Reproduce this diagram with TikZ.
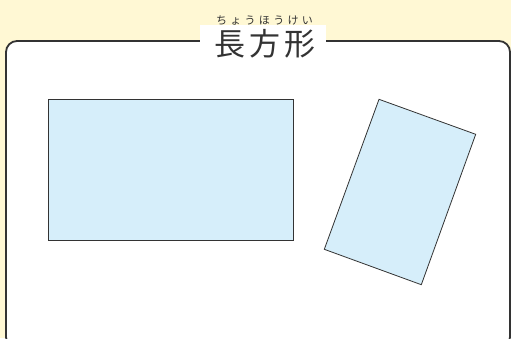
\documentclass[tikz,border=0pt]{standalone}
\usepackage{fontspec}
\newfontfamily\cjk{Noto Sans CJK JP}
\newfontfamily\cjkwide[LetterSpace=12]{Noto Sans CJK JP}
\newfontfamily\cjkruby[LetterSpace=30]{Noto Sans CJK JP}
\definecolor{cream}{HTML}{FFF8D4}
\definecolor{paleblue}{HTML}{D6EEFA}
\definecolor{ink}{HTML}{333333}
\tikzset{
  rectshape/.style={draw=ink, line width=0.8pt, fill=paleblue, line join=miter},
  framebox/.style={draw=ink, line width=1.8pt, fill=white, rounded corners=11pt}
}
\begin{document}
\begin{tikzpicture}[x=1pt,y=-1pt]
\fill[cream] (0,0) rectangle (511,338);
\useasboundingbox (0,0) rectangle (511,338);
\draw[framebox] (6,41) rectangle (510,348);
\fill[white] (200,25) rectangle (326,58);
\node[font=\cjkwide\fontsize{31}{33}\selectfont, text=ink, inner sep=0pt, anchor=base] (title) at (265,55) {長方形};
\node[font=\cjkruby\fontsize{11}{12}\selectfont, text=ink, inner sep=0pt, anchor=base] (ruby) at (264.5,24.5) {ちょうほうけい};
\draw[rectshape] (48,99) rectangle (293,240);
\draw[rectshape] (379,99.3) -- (475.7,134.3) -- (421.3,284.7) -- (324.3,249.3) -- cycle;
\end{tikzpicture}
\end{document}
